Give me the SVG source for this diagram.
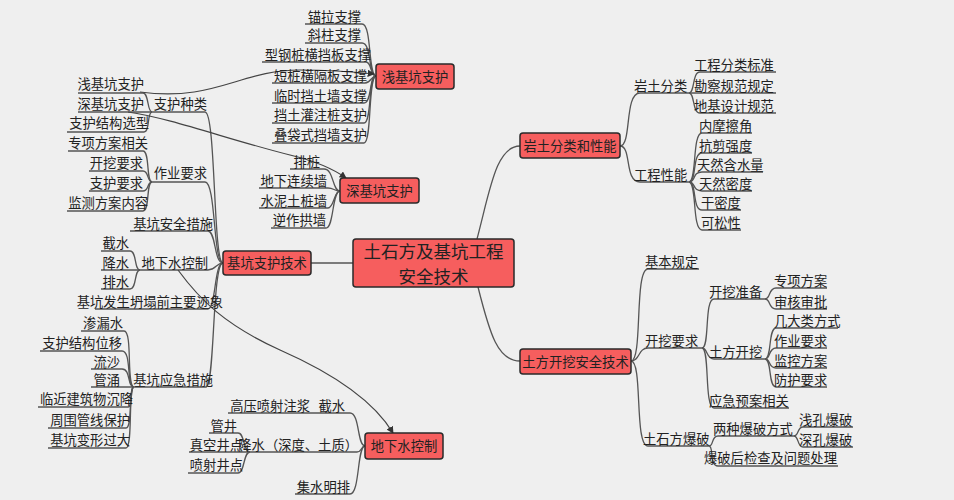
<svg xmlns="http://www.w3.org/2000/svg" width="954" height="500" viewBox="0 0 954 500">
<style>
.t{font-family:"Noto Sans CJK SC","Noto Sans",sans-serif;font-size:13.3px;fill:#222}
.e{text-anchor:end}
.c{text-anchor:middle}
.big{font-size:17.5px}
.box{fill:#f65e5e;stroke:#2a2a2a;stroke-width:1.5}
.l{fill:none;stroke:#555;stroke-width:1.3}
.r{fill:none;stroke:#444;stroke-width:1.2}
</style>
<defs>
<marker id="ar" viewBox="0 0 8 8" refX="7" refY="4" markerWidth="6" markerHeight="6" orient="auto">
<path d="M0,0 L8,4 L0,8 z" fill="#333"/>
</marker>
</defs>
<rect width="954" height="500" fill="#efefef"/>

<g id="connectors">
<path class="l" d="M311,263 L353,263"/>
<path class="l" d="M477,239 C490,190 496,146 520,146"/>
<path class="l" d="M478,287 C490,335 498,361 520,361"/>
<path class="l" d="M620,146 C632,146 624,93 640,93 H689"/>
<path class="l" d="M620,146 C632,146 624,182 640,182 H689"/>
<path class="l" d="M689,93 C695,93 692,72 700,72 H776"/>
<path class="l" d="M689,93 H776"/>
<path class="l" d="M689,93 C695,93 692,113 700,113 H776"/>
<path class="l" d="M689,182 C697,182 692,133 702,133 H752"/>
<path class="l" d="M689,182 C697,182 692,153 702,153 H752"/>
<path class="l" d="M689,182 C696,182 692,172 702,172 H763"/>
<path class="l" d="M689,182 C696,182 692,191 702,191 H752"/>
<path class="l" d="M689,182 C697,182 692,210 702,210 H741"/>
<path class="l" d="M689,182 C697,182 692,230 702,230 H741"/>
<path class="l" d="M631,361 C643,361 634,269 648,269 H699"/>
<path class="l" d="M631,361 C640,361 638,348 648,348 H702"/>
<path class="l" d="M631,361 C643,361 634,446 648,446 H709"/>
<path class="l" d="M702,348 C710,348 704,299 714,299 H765"/>
<path class="l" d="M702,348 C708,348 706,359 714,359 H765"/>
<path class="l" d="M702,348 C710,348 704,408 714,408 H789"/>
<path class="l" d="M765,299 C771,299 768,288 776,288 H827"/>
<path class="l" d="M765,299 C771,299 768,309 776,309 H827"/>
<path class="l" d="M765,359 C772,359 768,328 776,328 H838"/>
<path class="l" d="M765,359 C771,359 768,348 776,348 H827"/>
<path class="l" d="M765,359 C771,359 768,368 776,368 H827"/>
<path class="l" d="M765,359 C772,359 768,387 776,387 H827"/>
<path class="l" d="M709,446 C714,446 711,436 718,436 H794"/>
<path class="l" d="M709,446 C714,446 709,466 718,466 H838"/>
<path class="l" d="M794,436 C799,436 797,427 803,427 H853"/>
<path class="l" d="M794,436 C799,436 797,447 803,447 H853"/>
<path class="l" d="M223,263 C213,263 216,112 205,112 H152"/>
<path class="l" d="M223,263 C213,263 216,182 205,182 H152"/>
<path class="l" d="M223,263 C214,263 216,231 208,231 H130"/>
<path class="l" d="M223,263 C216,263 216,270 208,270 H140"/>
<path class="l" d="M223,263 C214,263 216,309 208,309 H95"/>
<path class="l" d="M223,263 C212,263 215,387 206,387 H134"/>
<path class="l" d="M152,112 C147,112 149,93 143,93 H78"/>
<path class="l" d="M152,112 H78"/>
<path class="l" d="M152,112 C147,112 150,132 144,132 H67"/>
<path class="l" d="M152,182 C146,182 150,151 143,151 H68"/>
<path class="l" d="M152,182 C147,182 149,171 143,171 H89"/>
<path class="l" d="M152,182 C147,182 149,191 143,191 H89"/>
<path class="l" d="M152,182 C146,182 150,211 143,211 H67"/>
<path class="l" d="M140,270 C134,270 137,251 130,251 H101"/>
<path class="l" d="M140,270 H101"/>
<path class="l" d="M140,270 C134,270 137,289 130,289 H101"/>
<path class="l" d="M134,387 C126,387 133,331 124,331 H81"/>
<path class="l" d="M134,387 C126,387 132,351 122,351 H40"/>
<path class="l" d="M134,387 C127,387 131,369 122,369 H91"/>
<path class="l" d="M134,387 H91"/>
<path class="l" d="M134,387 C129,387 134,407 128,407 H38"/>
<path class="l" d="M134,387 C128,387 133,428 126,428 H48"/>
<path class="l" d="M134,387 C128,387 133,448 126,448 H48"/>
<path class="l" d="M376,76 C368,76 372,24 362,24 H305"/>
<path class="l" d="M376,76 C368,76 372,43 362,43 H305"/>
<path class="l" d="M376,76 C370,76 372,62 366,62 H262"/>
<path class="l" d="M376,76 C371,76 371,83 365,83 H272"/>
<path class="l" d="M376,76 C369,76 372,103 364,103 H272"/>
<path class="l" d="M376,76 C368,76 372,123 364,123 H272"/>
<path class="l" d="M376,76 C368,76 372,143 364,143 H272"/>
<path class="l" d="M340,191 C332,191 334,169 324,169 H290"/>
<path class="l" d="M340,191 C334,191 334,188 328,188 H259"/>
<path class="l" d="M340,191 C334,191 334,208 328,208 H259"/>
<path class="l" d="M340,191 C332,191 334,228 326,228 H271"/>
<path class="l" d="M365,446 C357,446 360,413 350,413 H228"/>
<path class="l" d="M365,446 C361,446 362,452 357,452 H189"/>
<path class="l" d="M250,452 C243,452 245,433 238,433 H209"/>
<path class="l" d="M250,452 C243,452 245,473 238,473 H188"/>
<path class="l" d="M365,446 C357,446 360,494 350,494 H295"/>
<path class="r" marker-end="url(#ar)" d="M140,92 C215,102 240,70 300,70 C330,70 355,72 374,74"/>
<path class="r" marker-end="url(#ar)" d="M128,112 C170,118 230,140 290,155 C315,161 332,168 346,178"/>
<path class="r" marker-end="url(#ar)" d="M178,270 C200,300 225,325 280,350 C330,372 372,398 393,433"/>
</g>

<g id="root"><rect class="box" x="353" y="239" width="161" height="48" rx="3"/>
<text class="t big c"><tspan x="433.5" y="258">土石方及基坑工程</tspan><tspan x="433.5" y="283">安全技术</tspan></text></g>

<g id="jkzhjs"><rect class="box" x="223" y="251" width="88" height="24" rx="3"/><text class="t c" x="267" y="268">基坑支护技术</text></g>
<g id="qjkzh"><rect class="box" x="376" y="64" width="78" height="25" rx="3"/><text class="t c" x="415" y="81.5">浅基坑支护</text></g>
<g id="sjkzh"><rect class="box" x="340" y="178" width="79" height="25" rx="3"/><text class="t c" x="379.5" y="195.5">深基坑支护</text></g>
<g id="dxskz"><rect class="box" x="365" y="433" width="78" height="26" rx="3"/><text class="t c" x="404" y="451">地下水控制</text></g>
<g id="ytfl"><rect class="box" x="520" y="133" width="100" height="25" rx="3"/><text class="t c" x="570" y="150.5">岩土分类和性能</text></g>
<g id="tfkw"><rect class="box" x="520" y="349" width="111" height="25" rx="3"/><text class="t c" x="575.5" y="366.5">土方开挖安全技术</text></g>

<g id="a1"><text class="t" x="634" y="91">岩土分类</text></g>
<g id="a2"><text class="t" x="634" y="180">工程性能</text></g>
<g id="a3"><text class="t" x="694" y="70">工程分类标准</text></g>
<g id="a4"><text class="t" x="694" y="91">勘察规范规定</text></g>
<g id="a5"><text class="t" x="694" y="111">地基设计规范</text></g>
<g id="a6"><text class="t" x="699" y="131">内摩擦角</text></g>
<g id="a7"><text class="t" x="699" y="151">抗剪强度</text></g>
<g id="a8"><text class="t" x="697" y="170">天然含水量</text></g>
<g id="a9"><text class="t" x="699" y="189">天然密度</text></g>
<g id="a10"><text class="t" x="701" y="208">干密度</text></g>
<g id="a11"><text class="t" x="701" y="228">可松性</text></g>

<g id="b1"><text class="t" x="645" y="267">基本规定</text></g>
<g id="b2"><text class="t" x="645" y="346">开挖要求</text></g>
<g id="b3"><text class="t" x="643" y="444">土石方爆破</text></g>
<g id="b4"><text class="t" x="709" y="297">开挖准备</text></g>
<g id="b5"><text class="t" x="709" y="357">土方开挖</text></g>
<g id="b6"><text class="t" x="709" y="406">应急预案相关</text></g>
<g id="b7"><text class="t" x="774" y="286">专项方案</text></g>
<g id="b8"><text class="t" x="774" y="307">审核审批</text></g>
<g id="b9"><text class="t" x="774" y="326">几大类方式</text></g>
<g id="b10"><text class="t" x="774" y="346">作业要求</text></g>
<g id="b11"><text class="t" x="774" y="366">监控方案</text></g>
<g id="b12"><text class="t" x="774" y="385">防护要求</text></g>
<g id="b13"><text class="t" x="713" y="434">两种爆破方式</text></g>
<g id="b14"><text class="t" x="704" y="463">爆破后检查及问题处理</text></g>
<g id="b15"><text class="t" x="799" y="425">浅孔爆破</text></g>
<g id="b16"><text class="t" x="799" y="445">深孔爆破</text></g>

<g id="c1"><text class="t e" x="207" y="109">支护种类</text></g>
<g id="c2"><text class="t e" x="207" y="178">作业要求</text></g>
<g id="c3"><text class="t e" x="213" y="229">基坑安全措施</text></g>
<g id="c4"><text class="t e" x="208" y="268">地下水控制</text></g>
<g id="c5"><text class="t e" x="223" y="307">基坑发生坍塌前主要迹象</text></g>
<g id="c6"><text class="t e" x="213" y="385">基坑应急措施</text></g>
<g id="c7"><text class="t e" x="144" y="89">浅基坑支护</text></g>
<g id="c8"><text class="t e" x="144" y="109">深基坑支护</text></g>
<g id="c9"><text class="t e" x="149" y="128">支护结构选型</text></g>
<g id="c10"><text class="t e" x="148" y="148">专项方案相关</text></g>
<g id="c11"><text class="t e" x="143" y="168">开挖要求</text></g>
<g id="c12"><text class="t e" x="143" y="188">支护要求</text></g>
<g id="c13"><text class="t e" x="148" y="208">监测方案内容</text></g>
<g id="c14"><text class="t e" x="129" y="248">截水</text></g>
<g id="c15"><text class="t e" x="129" y="268">降水</text></g>
<g id="c16"><text class="t e" x="129" y="287">排水</text></g>
<g id="c17"><text class="t e" x="123" y="328">渗漏水</text></g>
<g id="c18"><text class="t e" x="122" y="348">支护结构位移</text></g>
<g id="c19"><text class="t e" x="120" y="367">流沙</text></g>
<g id="c20"><text class="t e" x="120" y="385">管涌</text></g>
<g id="c21"><text class="t e" x="133" y="404">临近建筑物沉降</text></g>
<g id="c22"><text class="t e" x="130" y="425">周围管线保护</text></g>
<g id="c23"><text class="t e" x="130" y="445">基坑变形过大</text></g>

<g id="d1"><text class="t e" x="361" y="22">锚拉支撑</text></g>
<g id="d2"><text class="t e" x="361" y="40">斜柱支撑</text></g>
<g id="d3"><text class="t e" x="371" y="60">型钢桩横挡板支撑</text></g>
<g id="d4"><text class="t e" x="367" y="81">短桩横隔板支撑</text></g>
<g id="d5"><text class="t e" x="367" y="101">临时挡土墙支撑</text></g>
<g id="d6"><text class="t e" x="367" y="120">挡土灌注桩支护</text></g>
<g id="d7"><text class="t e" x="367" y="140">叠袋式挡墙支护</text></g>

<g id="e1"><text class="t e" x="320" y="167">排桩</text></g>
<g id="e2"><text class="t e" x="327" y="186">地下连续墙</text></g>
<g id="e3"><text class="t e" x="327" y="206">水泥土桩墙</text></g>
<g id="e4"><text class="t e" x="326" y="225">逆作拱墙</text></g>

<g id="f1"><text class="t e" x="345" y="411">截水</text></g>
<g id="f2"><text class="t e" x="310" y="411">高压喷射注浆</text></g>
<g id="f3"><text class="t e" x="358" y="450">降水（深度、土质）</text></g>
<g id="f4"><text class="t e" x="243" y="450">真空井点</text></g>
<g id="f5"><text class="t e" x="237" y="431">管井</text></g>
<g id="f6"><text class="t e" x="243" y="470">喷射井点</text></g>
<g id="f7"><text class="t e" x="350" y="492">集水明排</text></g>
</svg>
